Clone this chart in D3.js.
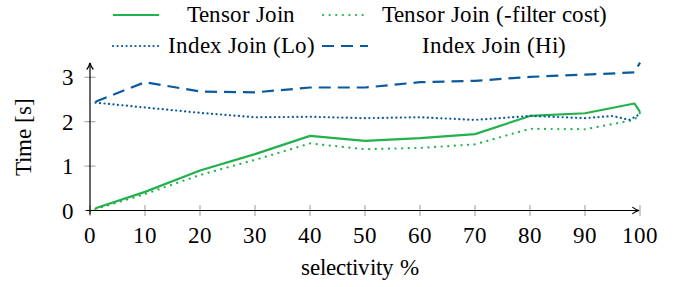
<!DOCTYPE html>
<html>
<head>
<meta charset="utf-8">
<script src="https://cdn.jsdelivr.net/npm/d3@7"></script>
<style>
  @font-face {
    font-family: 'PaperSerif';
    src: local('Liberation Serif'), local('LiberationSerif'), local('LiberationSerif-Regular'), local('Tinos'), local('Times New Roman');
  }
  body { margin: 0; background: #fff; }
  svg text { font-family: PaperSerif, "Liberation Serif", Tinos, monospace; }
</style>
</head>
<body>
<script>
// data
const selectivity   = [1, 10, 20, 30, 40, 50, 60, 70, 80, 90, 99, 100];
const tensorJoin    = [0.05, 0.42, 0.9, 1.27, 1.68, 1.57, 1.63, 1.72, 2.13, 2.19, 2.41, 2.22];
const tensorNoFilt  = [0.03, 0.37, 0.8, 1.14, 1.51, 1.38, 1.41, 1.49, 1.84, 1.83, 2.04, 2.2];
const loSelect      = [1, 10, 20, 30, 40, 50, 60, 70, 80, 90, 95, 98, 100];
const indexLo       = [2.43, 2.32, 2.2, 2.1, 2.11, 2.08, 2.1, 2.04, 2.13, 2.08, 2.13, 2.04, 2.17];
const indexHi       = [2.45, 2.89, 2.68, 2.66, 2.77, 2.77, 2.89, 2.92, 3.01, 3.06, 3.11, 3.33];
const xTicks = [0, 10, 20, 30, 40, 50, 60, 70, 80, 90, 100];
const yTicks = [0, 1, 2, 3];

const green = '#22b14c';
const blue = '#0b5a9e';

const width = 686, height = 287;
const fs = 23;
const serif = 'PaperSerif, "Liberation Serif", Tinos, monospace';

const series = [
  {name: 'Tensor Join', xs: selectivity, ys: tensorJoin, color: green, dash: null},
  {name: 'Tensor Join (-filter cost)', xs: selectivity, ys: tensorNoFilt, color: green, dash: '0.1 6.5'},
  {name: 'Index Join (Lo)', xs: loSelect, ys: indexLo, color: blue, dash: '0.1 4.4'},
  {name: 'Index Join (Hi)', xs: selectivity, ys: indexHi, color: blue, dash: '12 7'}
];

const x = d3.scaleLinear().domain([0, 100]).range([90, 640]);
const y = d3.scaleLinear().domain([0, 3]).range([210.5, 77.3]);

const svg = d3.select('body').append('svg')
  .attr('width', width)
  .attr('height', height);

// shared text look
function label(sel) {
  return sel
    .attr('font-size', fs)
    .style('font-family', serif)
    .attr('fill', '#000');
}

// gray tick marks
svg.append('g')
  .selectAll('line')
  .data(xTicks)
  .join('line')
    .attr('x1', d => x(d)).attr('x2', d => x(d))
    .attr('y1', y(0) - 5.5).attr('y2', y(0) + 5.5)
    .attr('stroke', '#aaa').attr('stroke-width', 1.2);

svg.append('g')
  .selectAll('line')
  .data(yTicks)
  .join('line')
    .attr('x1', x(0) - 5.5).attr('x2', x(0) + 5.5)
    .attr('y1', d => y(d)).attr('y2', d => y(d))
    .attr('stroke', '#aaa').attr('stroke-width', 1.2);

// arrow marker
svg.append('defs').append('marker')
  .attr('id', 'arrow')
  .attr('viewBox', '0 0 10 10')
  .attr('refX', 9).attr('refY', 5)
  .attr('markerWidth', 7).attr('markerHeight', 7)
  .attr('orient', 'auto')
  .append('path')
    .attr('d', 'M1,1 Q5,4 9,5 Q5,6 1,9')
    .attr('fill', 'none')
    .attr('stroke', '#000')
    .attr('stroke-width', 1.4);

// axes lines
svg.append('line')
  .attr('x1', x(0) - 4).attr('x2', x(100) - 1)
  .attr('y1', y(0)).attr('y2', y(0))
  .attr('stroke', '#000').attr('stroke-width', 1.2)
  .attr('marker-end', 'url(#arrow)');
svg.append('line')
  .attr('x1', x(0)).attr('x2', x(0))
  .attr('y1', y(0) + 4).attr('y2', 63)
  .attr('stroke', '#000').attr('stroke-width', 1.2)
  .attr('marker-end', 'url(#arrow)');

// tick labels
svg.append('g')
  .selectAll('text')
  .data(xTicks)
  .join('text')
    .attr('x', d => x(d))
    .attr('y', 243)
    .attr('text-anchor', 'middle')
    .call(label)
    .text(d => d);

svg.append('g')
  .selectAll('text')
  .data(yTicks)
  .join('text')
    .attr('x', 74)
    .attr('y', d => y(d) + 8)
    .attr('text-anchor', 'end')
    .call(label)
    .text(d => d);

// axis titles
svg.append('text')
  .attr('x', 360).attr('y', 275)
  .attr('text-anchor', 'middle')
  .call(label)
  .text('selectivity %');

svg.append('text')
  .attr('transform', 'translate(31,137) rotate(-90)')
  .attr('text-anchor', 'middle')
  .call(label)
  .text('Time [s]');

// lines
const line = d3.line()
  .x(d => x(d[0]))
  .y(d => y(d[1]));

svg.append('g')
  .selectAll('path')
  .data(series)
  .join('path')
    .attr('d', s => line(s.xs.map((v, i) => [v, s.ys[i]])))
    .attr('fill', 'none')
    .attr('stroke', s => s.color)
    .attr('stroke-width', 2.2)
    .attr('stroke-linecap', s => s.dash && s.dash.startsWith('0.1') ? 'round' : 'butt')
    .attr('stroke-linejoin', 'round')
    .attr('stroke-dasharray', s => s.dash);

// legend: 2 columns, text centered in each cell
const legendPos = [
  {lx: 113, ly: 15, tx: 241},
  {lx: 323, ly: 15, tx: 494},
  {lx: 113, ly: 46, tx: 241},
  {lx: 322, ly: 46, tx: 494}
];

const legend = svg.append('g')
  .selectAll('g')
  .data(series)
  .join('g')
    .attr('transform', (d, i) => `translate(0, ${legendPos[i].ly})`);

legend.append('line')
  .attr('x1', (d, i) => legendPos[i].lx)
  .attr('x2', (d, i) => legendPos[i].lx + 46)
  .attr('y1', 0).attr('y2', 0)
  .attr('stroke', d => d.color)
  .attr('stroke-width', 2.2)
  .attr('stroke-linecap', d => d.dash && d.dash.startsWith('0.1') ? 'round' : 'butt')
  .attr('stroke-dasharray', d => d.dash);

legend.append('text')
  .attr('x', (d, i) => legendPos[i].tx)
  .attr('y', 7)
  .attr('text-anchor', 'middle')
  .call(label)
  .text(d => d.name);
</script>
</body>
</html>
